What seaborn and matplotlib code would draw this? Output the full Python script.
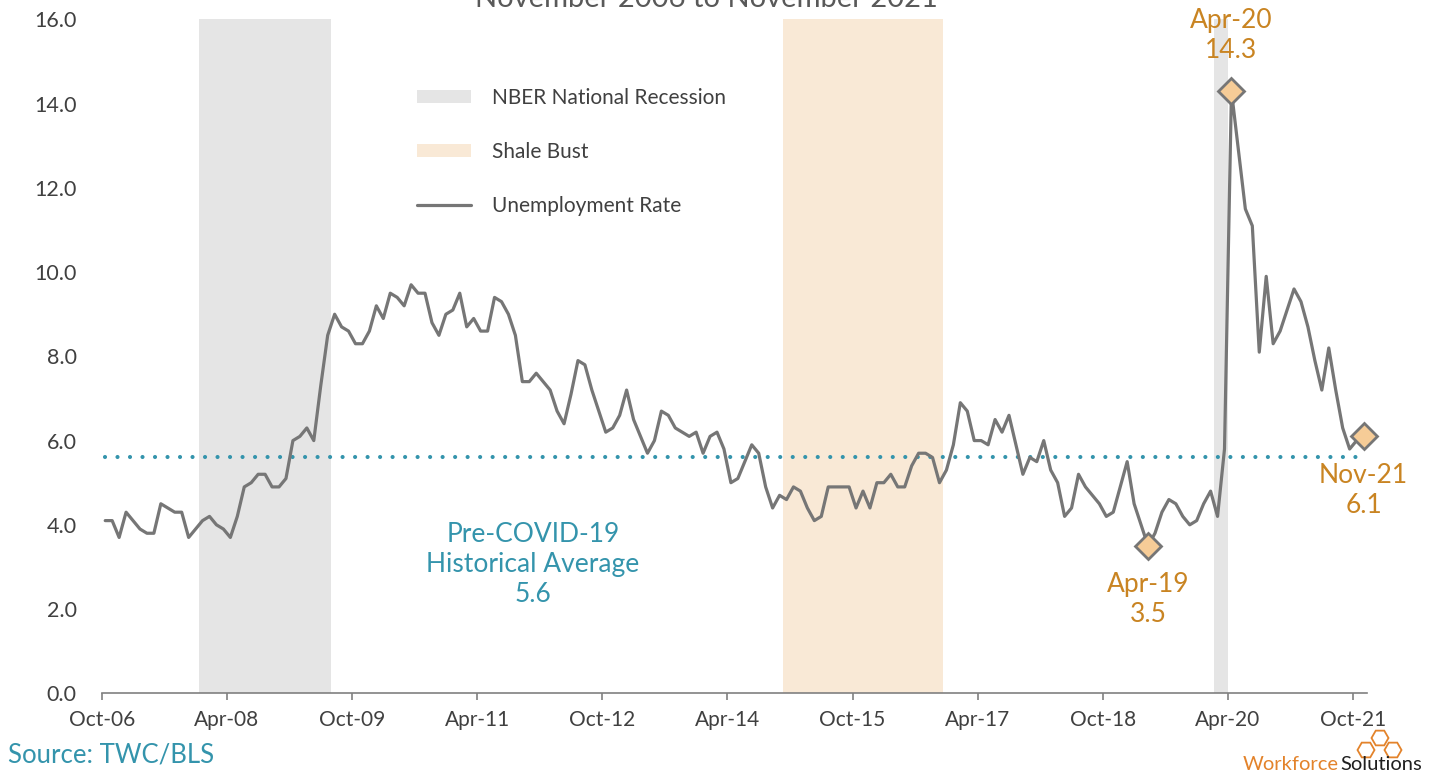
import numpy as np
import pandas as pd
import matplotlib
matplotlib.use("Agg")
import matplotlib.pyplot as plt
import seaborn as sns
from matplotlib.patches import Patch, RegularPolygon
from matplotlib.lines import Line2D

# monthly unemployment rate, Oct-06 .. Nov-21
rate = [
    4.1, 4.1, 3.7, 4.3, 4.1, 3.9, 3.8, 3.8, 4.5, 4.4, 4.3, 4.3,   # Oct-06..Sep-07
    3.7, 3.9, 4.1, 4.2, 4.0, 3.9, 3.7, 4.2, 4.9, 5.0, 5.2, 5.2,   # Oct-07..Sep-08
    4.9, 4.9, 5.1, 6.0, 6.1, 6.3, 6.0, 7.3, 8.5, 9.0, 8.7, 8.6,   # Oct-08..Sep-09
    8.3, 8.3, 8.6, 9.2, 8.9, 9.5, 9.4, 9.2, 9.7, 9.5, 9.5, 8.8,   # Oct-09..Sep-10
    8.5, 9.0, 9.1, 9.5, 8.7, 8.9, 8.6, 8.6, 9.4, 9.3, 9.0, 8.5,   # Oct-10..Sep-11
    7.4, 7.4, 7.6, 7.4, 7.2, 6.7, 6.4, 7.1, 7.9, 7.8, 7.2, 6.7,   # Oct-11..Sep-12
    6.2, 6.3, 6.6, 7.2, 6.5, 6.1, 5.7, 6.0, 6.7, 6.6, 6.3, 6.2,   # Oct-12..Sep-13
    6.1, 6.2, 5.7, 6.1, 6.2, 5.8, 5.0, 5.1, 5.5, 5.9, 5.7, 4.9,   # Oct-13..Sep-14
    4.4, 4.7, 4.6, 4.9, 4.8, 4.4, 4.1, 4.2, 4.9, 4.9, 4.9, 4.9,   # Oct-14..Sep-15
    4.4, 4.8, 4.4, 5.0, 5.0, 5.2, 4.9, 4.9, 5.4, 5.7, 5.7, 5.6,   # Oct-15..Sep-16
    5.0, 5.3, 5.9, 6.9, 6.7, 6.0, 6.0, 5.9, 6.5, 6.2, 6.6, 5.9,   # Oct-16..Sep-17
    5.2, 5.6, 5.5, 6.0, 5.3, 5.0, 4.2, 4.4, 5.2, 4.9, 4.7, 4.5,   # Oct-17..Sep-18
    4.2, 4.3, 4.9, 5.5, 4.5, 4.0, 3.5, 3.8, 4.3, 4.6, 4.5, 4.2,   # Oct-18..Sep-19
    4.0, 4.1, 4.5, 4.8, 4.2, 5.8, 14.3, 12.9, 11.5, 11.1, 8.1, 9.9,  # Oct-19..Sep-20
    8.3, 8.6, 9.1, 9.6, 9.3, 8.7, 7.9, 7.2, 8.2, 7.2, 6.3, 5.8,   # Oct-20..Sep-21
    6.0, 6.1,                                                     # Oct-21..Nov-21
]
avg_pre_covid = 5.6

tick_labels = ["Oct-06", "Apr-08", "Oct-09", "Apr-11", "Oct-12", "Apr-14",
               "Oct-15", "Apr-17", "Oct-18", "Apr-20", "Oct-21"]

# shaded periods, in months since Oct-06
recessions = [(14, 33), (160, 162)]   # Dec-07..Jun-09, Feb-20..Apr-20
shale_bust = (98, 121)                # Dec-14..Sep-16

# highlighted points
hl_idx = [150, 162, 181]
hl_names = ["Apr-19", "Apr-20", "Nov-21"]
hl_side = ["below", "above", "below"]

df = pd.DataFrame({"pos": np.arange(len(rate)) + 0.5, "rate": rate})

sns.set_style("white")
plt.rcParams["font.family"] = ["Lato", "DejaVu Sans"]

fig = plt.figure(figsize=(14.37, 7.78), dpi=100)
ax = fig.add_axes([0.0708, 0.1089, 0.8805, 0.8661])

grey_band = "#E5E5E5"
shale_col = "#F9E9D6"
line_col = "#767676"
teal = "#3494AC"
orange = "#C98422"

for a, b in recessions:
    ax.axvspan(a, b, color=grey_band, lw=0, zorder=0)
ax.axvspan(shale_bust[0], shale_bust[1], color=shale_col, lw=0, zorder=0)

ax.hlines(avg_pre_covid, df["pos"].iloc[0], df["pos"].iloc[-2], colors=teal,
          linewidth=3, linestyles=(0, (0.001, 3.0)), capstyle="round", zorder=2)

sns.lineplot(data=df, x="pos", y="rate", color=line_col, linewidth=2.3, ax=ax,
             zorder=3, clip_on=False)

hl = df.iloc[hl_idx]
ax.plot(hl["pos"], hl["rate"], linestyle="none", marker="D", markersize=13,
        markerfacecolor="#F6CC97", markeredgecolor="#767676", markeredgewidth=2,
        zorder=4, clip_on=False)

for (_, row), name, side in zip(hl.iterrows(), hl_names, hl_side):
    off = 20 if side == "above" else -19
    ax.annotate(f"{name}\n{row['rate']:.1f}", (row["pos"], row["rate"]),
                xytext=(0, off), textcoords="offset points", ha="center",
                va="bottom" if side == "above" else "top",
                fontsize=19, color=orange, linespacing=1.25)

ax.text(62, 3.05, f"Pre-COVID-19\nHistorical Average\n{avg_pre_covid}", ha="center",
        va="center", fontsize=19, color=teal, linespacing=1.25)

ax.set_xlim(0, 182)
ax.set_ylim(0, 16)
ax.set_xticks(np.arange(0, 181, 18))
ax.set_xticklabels(tick_labels)
ax.set_yticks(np.arange(0, 16.1, 2))
ax.set_yticklabels([f"{v:.1f}" for v in np.arange(0, 16.1, 2)])
ax.set_xlabel("")
ax.set_ylabel("")
for s in ["top", "right", "left"]:
    ax.spines[s].set_visible(False)
ax.spines["bottom"].set_color("#808080")
ax.spines["bottom"].set_linewidth(1.2)
ax.tick_params(axis="x", direction="out", length=5, width=1.2, color="#808080",
               pad=7, labelsize=15, labelcolor="#404040", bottom=True)
ax.tick_params(axis="y", length=0, pad=18, labelsize=15.5, labelcolor="#404040")

handles = [Patch(facecolor=grey_band, edgecolor="none"),
           Patch(facecolor=shale_col, edgecolor="none"),
           Line2D([], [], color=line_col, linewidth=2.3)]
labels = ["NBER National Recession", "Shale Bust", "Unemployment Rate"]
fig.legend(handles, labels, loc="upper left", bbox_to_anchor=(417 / 1437, 1 - 88 / 778),
           frameon=False, fontsize=15, handlelength=2.6, handleheight=0.6,
           handletextpad=1.0, labelspacing=1.62, borderpad=0, borderaxespad=0,
           labelcolor="#404040")

# title, cut off at the top edge like the source image
fig.text(0.4915, 1 - 7 / 778, "November 2006 to November 2021", ha="center", va="baseline",
         fontsize=21, color="#595959")

fig.text(8 / 1437, 1 - 755 / 778, "Source: TWC/BLS", ha="left", va="center",
         fontsize=18.5, color=teal)

# Workforce Solutions logo
t1 = fig.text(1243 / 1437, 1 - 765 / 778, "Workforce", ha="left", va="center",
              fontsize=14.5, color="#E3832B")
fig.canvas.draw()
bb = t1.get_window_extent()
fig.text(bb.x1 / fig.bbox.width + 0.001, 1 - 765 / 778, "Solutions", ha="left",
         va="center", fontsize=14.5, color="#1F1F1F")
for cx, cy in [(1366, 750), (1393, 750), (1380, 738)]:
    hexagon = RegularPolygon((cx, 778 - cy), numVertices=6, radius=8.5, orientation=np.pi / 6,
                             facecolor="none", edgecolor="#E3832B", linewidth=1.3,
                             transform=None)
    fig.add_artist(hexagon)

fig.savefig("out.png", dpi=100)
